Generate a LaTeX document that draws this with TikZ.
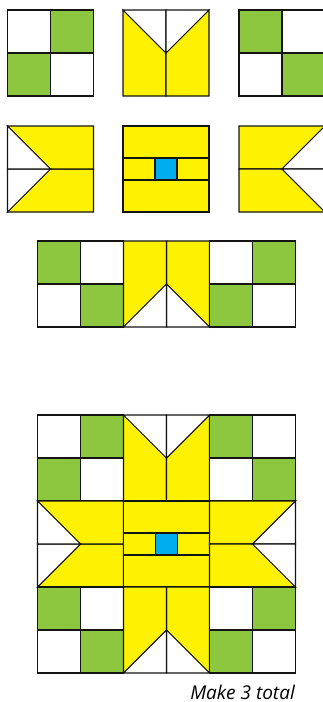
\documentclass[tikz,border=0pt]{standalone}
\usepackage{fontspec}
\setmainfont{Open Sans}
\definecolor{qgreen}{HTML}{8DC63F}
\definecolor{qyellow}{HTML}{FFF200}
\definecolor{qblue}{HTML}{00AEEF}
\tikzset{
  seam/.style={draw=black!92,line width=1.05pt,line join=miter},
  patchg/.style={seam,fill=qgreen},
  patchy/.style={seam,fill=qyellow},
  patchb/.style={seam,fill=qblue},
  patchw/.style={seam,fill=white},
  checkwg/.pic={
    \path[patchw] (-43,-43) rectangle (0,0);
    \path[patchg] (0,-43) rectangle (43,0);
    \path[patchg] (-43,0) rectangle (0,43);
    \path[patchw] (0,0) rectangle (43,43);
  },
  checkgw/.pic={
    \path[patchg] (-43,-43) rectangle (0,0);
    \path[patchw] (0,-43) rectangle (43,0);
    \path[patchw] (-43,0) rectangle (0,43);
    \path[patchg] (0,0) rectangle (43,43);
  },
  vblock/.pic={
    \path[patchy] (-43,-43) -- (0,0) -- (0,43) -- (-43,43) -- cycle;
    \path[patchy] (43,-43) -- (0,0) -- (0,43) -- (43,43) -- cycle;
    \path[patchw] (-43,-43) -- (0,-43) -- (0,0) -- cycle;
    \path[patchw] (43,-43) -- (0,-43) -- (0,0) -- cycle;
  },
  centreblock/.pic={
    \path[patchy] (-43,-43) rectangle (43,-11);
    \path[patchy] (-43,11) rectangle (43,43);
    \path[patchy] (-43,-11) rectangle (-11,11);
    \path[patchy] (11,-11) rectangle (43,11);
    \path[patchb] (-11,-11) rectangle (11,11);
  }
}
\begin{document}
\begin{tikzpicture}[x=1pt,y=-1pt]
\clip (0,0) rectangle (323,702);
\path[fill=white] (0,0) rectangle (323,702);
% top rows
\pic at (50.5,53) {checkwg};
\pic at (166,53) {vblock};
\pic at (282,53) {checkgw};
\pic[rotate=90] at (50.5,169) {vblock};
\pic at (166,169) {centreblock};
\pic[rotate=-90] at (282,169) {vblock};
% sashing row
\pic at (80.5,284) {checkgw};
\pic[rotate=180] at (166.5,284) {vblock};
\pic at (252.5,284) {checkwg};
% finished block
\pic at (80.5,458) {checkwg};
\pic at (166.5,458) {vblock};
\pic at (252.5,458) {checkgw};
\pic[rotate=90] at (80.5,544) {vblock};
\pic at (166.5,544) {centreblock};
\pic[rotate=-90] at (252.5,544) {vblock};
\pic at (80.5,630) {checkgw};
\pic[rotate=180] at (166.5,630) {vblock};
\pic at (252.5,630) {checkwg};
\node[anchor=base east,inner sep=0pt,font=\itshape\fontsize{19}{21}\selectfont] (caption) at (295,699.5) {Make 3 total};
\end{tikzpicture}
\end{document}
